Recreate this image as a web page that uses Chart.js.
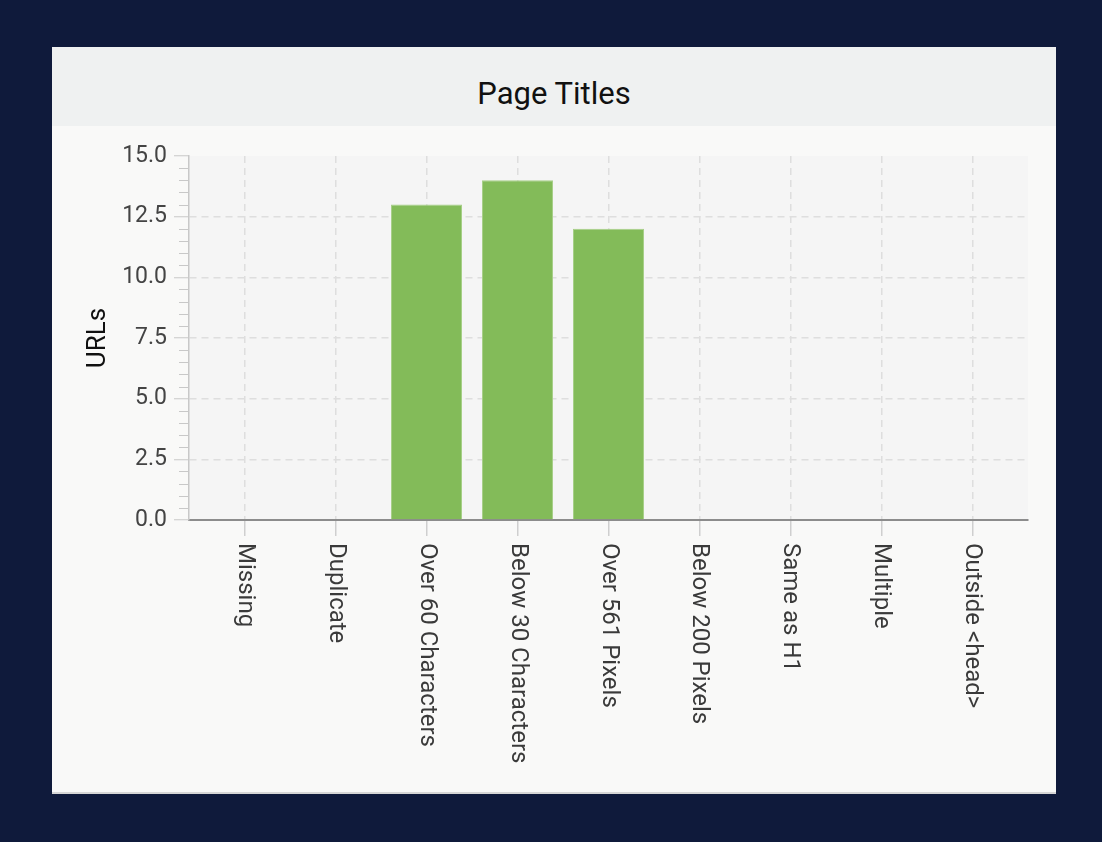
<!DOCTYPE html>
<html>
<head>
<meta charset="utf-8">
<script src="https://cdn.jsdelivr.net/npm/chart.js@4"></script>
<style>
    html, body { margin: 0; padding: 0; background: #0f1a3b; width: 1102px; height: 842px; overflow: hidden; }
    .card { position: absolute; left: 52px; top: 47px; width: 1004px; height: 745px; background: #f9f9f8; border-bottom: 2px solid #d6d6d6; }
    .card-header { box-sizing: border-box; height: 79px; padding-top: 14px; background: #eff1f1; display: flex; align-items: center; justify-content: center; font-family: Roboto, sans-serif; font-size: 31px; color: #111; }
    .chart-box { position: relative; width: 1004px; height: 666px; }
</style>
</head>
<body>
<div class="card">
    <div class="card-header">Page Titles</div>
    <div class="chart-box"><canvas id="titlesChart"></canvas></div>
</div>
<script>
const categories = ['Missing', 'Duplicate', 'Over 60 Characters', 'Below 30 Characters', 'Over 561 Pixels', 'Below 200 Pixels', 'Same as H1', 'Multiple', 'Outside <head>'];
const urlCounts = [0, 0, 13, 14, 12, 0, 0, 0, 0];
const yTicks = [0, 2.5, 5, 7.5, 10, 12.5, 15];
const yMinorStep = 0.5;

document.addEventListener('DOMContentLoaded', function () {
    const ctx = document.getElementById('titlesChart').getContext('2d');

    // grey plot background, drawn behind everything
    const plotBackground = {
        id: 'plotBackground',
        beforeDraw(chart) {
            const a = chart.chartArea;
            const c = chart.ctx;
            c.save();
            c.fillStyle = '#f5f5f5';
            c.fillRect(a.left, a.top, a.right - a.left, a.bottom - a.top);
            c.restore();
        }
    };

    // short minor ticks on the y axis and rotated category labels
    const axisExtras = {
        id: 'axisExtras',
        afterDraw(chart) {
            const c = chart.ctx;
            const y = chart.scales.y;
            const x = chart.scales.x;
            const left = chart.chartArea.left;
            c.save();
            c.strokeStyle = '#c8c8c8';
            c.lineWidth = 1;
            for (let v = yTicks[0]; v <= yTicks[yTicks.length - 1]; v += yMinorStep) {
                if (yTicks.includes(v)) continue;
                const py = Math.round(y.getPixelForValue(v)) + 0.5;
                c.beginPath();
                c.moveTo(left - 10, py);
                c.lineTo(left, py);
                c.stroke();
            }

            c.fillStyle = '#3a3a3a';
            c.font = '24px Roboto';
            c.textAlign = 'left';
            c.textBaseline = 'middle';
            const top = chart.chartArea.bottom + 23;
            categories.forEach(function (label, i) {
                c.save();
                c.translate(x.getPixelForValue(i), top);
                c.rotate(Math.PI / 2);
                c.fillText(label, 0, 0);
                c.restore();
            });
            c.restore();
        }
    };

    new Chart(ctx, {
        type: 'bar',
        data: {
            datasets: [{
                label: 'URLs',
                data: urlCounts.map(function (v, i) { return { x: i, y: v }; }),
                backgroundColor: '#83bb59',
                borderColor: '#a6cf87',
                borderWidth: 1,
                barPercentage: 0.78,
                categoryPercentage: 1
            }]
        },
        options: {
            responsive: true,
            maintainAspectRatio: false,
            animation: false,
            layout: { padding: { top: 30, right: 28, left: 0, bottom: 0 } },
            plugins: {
                legend: { display: false },
                tooltip: { enabled: false }
            },
            scales: {
                x: {
                    type: 'linear',
                    offset: false,
                    min: -0.61,
                    max: 8.61,
                    afterBuildTicks: function (scale) {
                        scale.ticks = categories.map(function (_, i) { return { value: i }; });
                    },
                    afterFit: function (scale) { scale.height = 272; },
                    ticks: { display: false },
                    grid: {
                        offset: false,
                        color: '#dedede',
                        lineWidth: 1.5,
                        tickLength: 16,
                        tickColor: '#cfcfcf',
                        tickBorderDash: [],
                        tickWidth: 1.5
                    },
                    border: { color: '#8c8c8c', width: 2, dash: [7, 5] }
                },
                y: {
                    min: 0,
                    max: 15,
                    afterBuildTicks: function (scale) {
                        scale.ticks = yTicks.map(function (v) { return { value: v }; });
                    },
                    afterFit: function (scale) { scale.width = 137; },
                    ticks: {
                        padding: 7,
                        color: '#444',
                        font: { family: 'Roboto', size: 23 },
                        callback: function (v) { return Number(v).toFixed(1); }
                    },
                    grid: {
                        color: function (c) {
                            return (c.tick && c.tick.value > 0 && c.tick.value < 15) ? '#dedede' : 'rgba(0,0,0,0)';
                        },
                        lineWidth: 1.5,
                        tickLength: 15,
                        tickColor: '#c8c8c8',
                        tickBorderDash: [],
                        tickWidth: 1
                    },
                    border: { color: '#c8c8c8', width: 1.5, dash: [7, 5] },
                    title: {
                        display: true,
                        text: 'URLs',
                        color: '#111',
                        font: { family: 'Roboto', size: 26 },
                        padding: { top: 31, bottom: 0 }
                    }
                }
            }
        },
        plugins: [plotBackground, axisExtras]
    });
});
</script>
</body>
</html>
